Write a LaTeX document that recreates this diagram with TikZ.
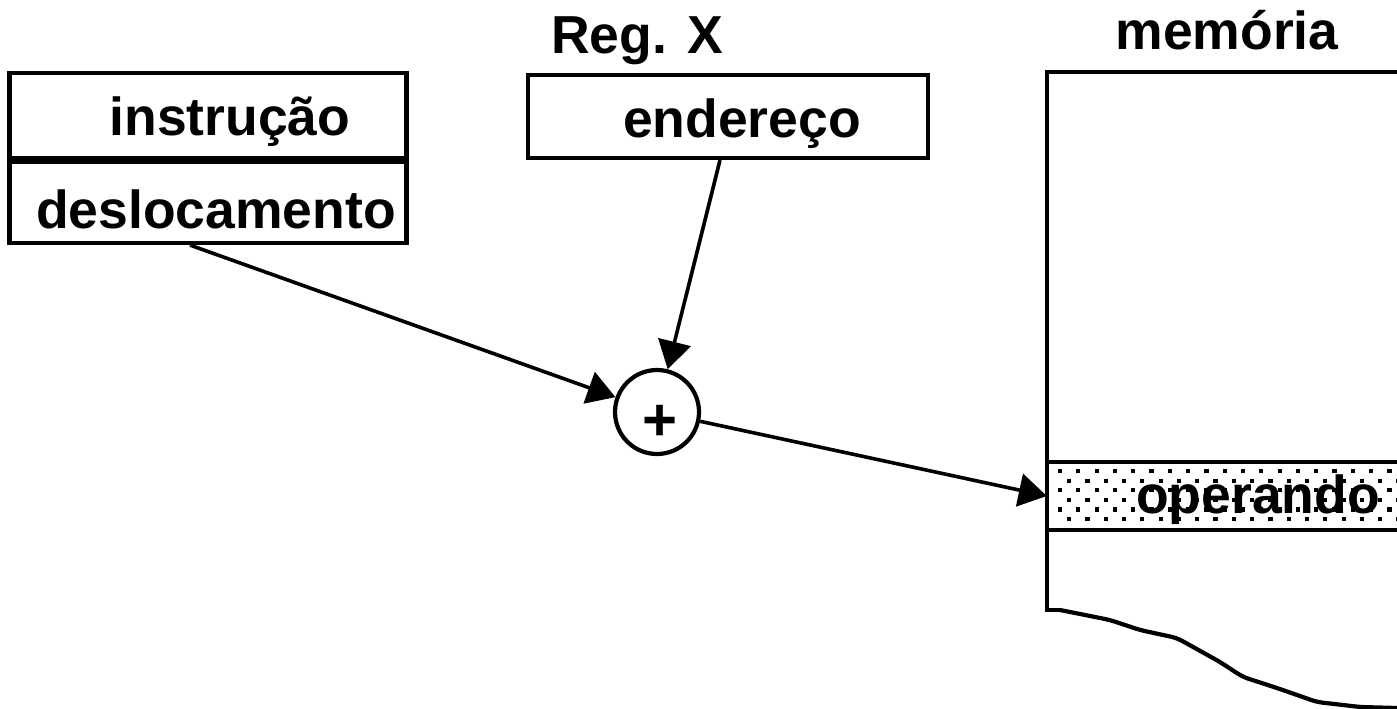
\documentclass[tikz,border=0pt]{standalone}
\usepackage{fontspec}
\setmainfont{Liberation Sans}
\usetikzlibrary{arrows.meta}
\tikzset{
  x=1pt, y=-1pt,
  lbl/.style={font=\fontsize{53.5}{60}\selectfont\bfseries, inner sep=0pt, anchor=base},
  boxnode/.style={draw, line width=4.2pt, rectangle, inner sep=0pt},
  conn/.style={line width=3.6pt, -{Triangle[length=28pt,width=33pt]}},
  memline/.style={line width=4.2pt}
}
\begin{document}
\begin{tikzpicture}
\useasboundingbox (0,0) rectangle (1397,709);
% instruction boxes
\node[boxnode, minimum width=397pt, minimum height=85pt] (instr) at (208,115.5) {};
\node[boxnode, minimum width=397pt, minimum height=84pt] (desl) at (208,201) {};
\draw[line width=7pt] (instr.south west) -- (instr.south east);
\node[lbl] (tinstr) at (230,135) {instrução};
\node[lbl] (tdesl) at (216,228) {deslocamento};
% register X
\node[lbl] (treg) at (637,53) {Reg. X};
\node[boxnode, minimum width=400pt, minimum height=83pt] (endr) at (728,116.5) {};
\node[lbl] (tendr) at (742,137) {endereço};
% adder
\node[draw, circle, line width=4.2pt, minimum size=84pt, inner sep=0pt] (plus) at (657,412) {};
\node[font=\fontsize{60}{60}\selectfont\bfseries, inner sep=0pt] (tplus) at (660,423) {+};
% memory
\node[lbl] (tmem) at (1227,50) {memória};
\node[rectangle, inner sep=0pt, minimum width=350pt, minimum height=68pt] (oper) at (1222,496) {};
\begin{scope}
  \clip (1049,464) rectangle (1397,528);
  \foreach \r in {0,...,5} {
    \foreach \c in {0,...,19} {
      \pgfmathsetmacro{\xx}{1060+18.3*\c+9.15*mod(\r,2)}
      \pgfmathsetmacro{\yy}{471+9.6*\r}
      \fill (\xx-2.1,\yy-2.1) rectangle ++(4.2,4.2);
    }
  }
\end{scope}
\node[lbl] (toper) at (1258,513) {operando};
\draw[memline] (1397,72) -- (1047,72) -- (1047,610) -- (1060,610);
\draw[memline, line join=round, line cap=round, rounded corners=6pt] (1060,610) -- (1110,620) -- (1140,630) -- (1177,638) -- (1220,662) -- (1243,677) -- (1277,688) -- (1317,702) -- (1360,707) -- (1397,708);
\draw[memline] (oper.north west) -- (oper.north east);
\draw[memline] (oper.south west) -- (oper.south east);
% connectors
\draw[conn] ([xshift=-18pt]desl.south) -- (plus);
\draw[conn] ([xshift=-8pt]endr.south) -- (plus);
\draw[conn] (plus) -- (oper.west);
\end{tikzpicture}
\end{document}
